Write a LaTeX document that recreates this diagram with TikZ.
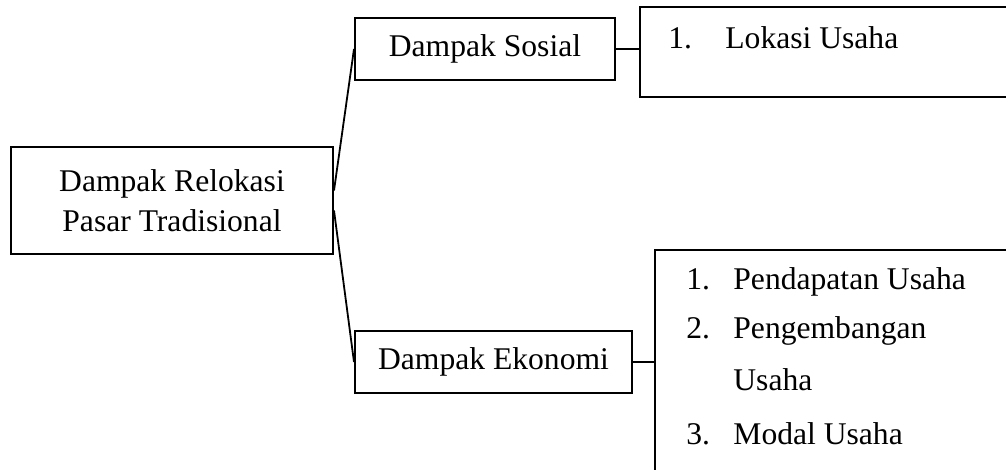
\documentclass[tikz,border=0pt]{standalone}
\usepackage{fontspec}
\setmainfont{Liberation Serif}
\usetikzlibrary{positioning}

\tikzset{
  kotak/.style={draw, rectangle, line width=1pt, inner sep=0pt},
  huruf/.style={font=\fontsize{15.8pt}{20pt}\selectfont},
  butir/.style={huruf, inner sep=0pt, anchor=base west},
  garis/.style={line width=0.9pt}
}

\begin{document}
\begin{tikzpicture}[x=0.5pt,y=-0.5pt]
	\useasboundingbox (0,0) rectangle (1006,470);

	\node[kotak, huruf, align=center, minimum width=161pt, minimum height=53.5pt] (root) at (172,200.5) {Dampak Relokasi\\Pasar Tradisional};
	\node[kotak, huruf, minimum width=130pt, minimum height=31pt] (sosial) at (485,49) {Dampak Sosial};
	\node[kotak, huruf, minimum width=138.5pt, minimum height=31pt] (ekonomi) at (493.5,362) {Dampak Ekonomi};

	\node[kotak, minimum width=185pt, minimum height=45pt] (isisosial) at (825,52.5) {};
	\node[kotak, minimum width=180pt, minimum height=120pt] (isiekonomi) at (835,370) {};

	\node[butir] (s1) at (668,49) {1.};
	\node[butir] (s1t) at (725,49) {Lokasi Usaha};

	\node[butir] (e1) at (686,290) {1.};
	\node[butir] (e1t) at (733,290) {Pendapatan Usaha};
	\node[butir] (e2) at (686,338) {2.};
	\node[butir] (e2t) at (733,338) {Pengembangan};
	\node[butir] (e2u) at (733,390) {Usaha};
	\node[butir] (e3) at (686,444) {3.};
	\node[butir] (e3t) at (733,444) {Modal Usaha};

	\draw[garis] ([yshift=5pt]root.east) -- (sosial.west);
	\draw[garis] ([yshift=-5pt]root.east) -- (ekonomi.west);
	\draw[garis] (sosial.east) -- (sosial.east -| isisosial.west);
	\draw[garis] (ekonomi.east) -- (ekonomi.east -| isiekonomi.west);
\end{tikzpicture}
\end{document}
